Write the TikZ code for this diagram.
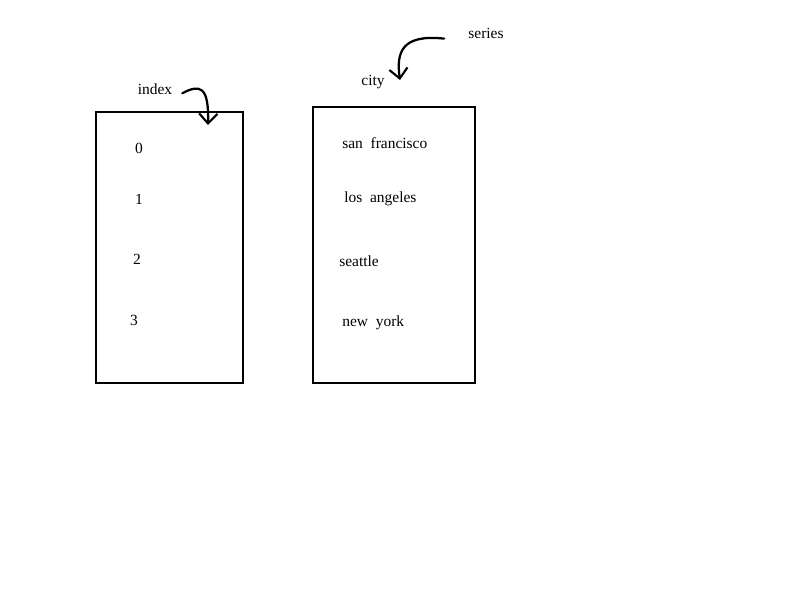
\documentclass[tikz,border=0pt]{standalone}
\usepackage{fontspec}
\setmainfont{Liberation Serif}
\usetikzlibrary{arrows.meta}

\begin{document}
\begin{tikzpicture}[x=0.025cm, y=-0.025cm,
        col/.style = {draw, line width=1.2pt},
        lbl/.style = {font=\fontsize{11}{13}\selectfont, inner sep=0pt},
        pen/.style = {line width=1.6pt, line cap=round, -{Straight Barb[length=7pt, width=13pt, line width=1.5pt]}}]
        \useasboundingbox (0,0) rectangle (800,600);

        % the two columns
        \draw[col] (96,112) rectangle (243,383);
        \draw[col] (313,107) rectangle (475,383);

        % index values
        \node[lbl] at (139,148) (i0) {0};
        \node[lbl] at (139,199) (i1) {1};
        \node[lbl] at (137,259) (i2) {2};
        \node[lbl] at (134,320) (i3) {3};

        % series values
        \node[lbl, anchor=west] at (342,143) (c0) {san\ \ francisco};
        \node[lbl, anchor=west] at (344,199) (c1) {los\ \ angeles};
        \node[lbl, anchor=west] at (339,261) (c2) {seattle};
        \node[lbl, anchor=west] at (342,323) (c3) {new\ \ york};

        % labels
        \node[lbl] at (155,89) (index) {index};
        \node[lbl] at (373,82) (city) {city};
        \node[lbl] at (486,33) (series) {series};

        \coordinate (idxtip) at (208,125);
        \coordinate (citytip) at (400,80);

        \draw[pen] ([xshift=7pt, yshift=-3pt]index.east) .. controls (200,84) and (209,86) .. (idxtip);
        \draw[pen] ([xshift=-17pt, yshift=-4pt]series.west) .. controls (402,34) and (396,52) .. (citytip);
\end{tikzpicture}
\end{document}
